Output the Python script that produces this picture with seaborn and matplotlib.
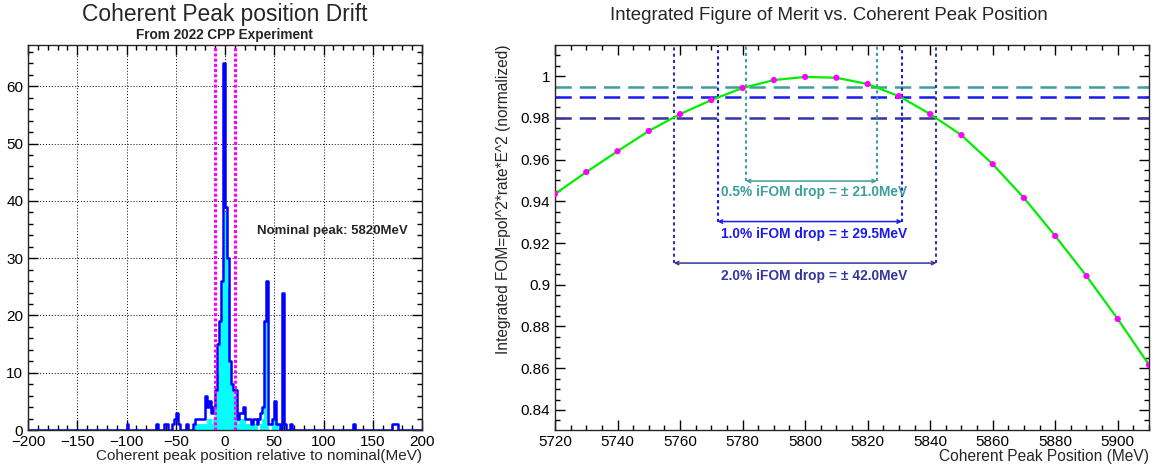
import matplotlib
matplotlib.use("Agg")
import matplotlib.pyplot as plt
from matplotlib.ticker import MultipleLocator, FuncFormatter
import numpy as np
import pandas as pd
import seaborn as sns

# -----------------------------
# Data: coherent peak drift histogram (2 MeV bins, left edges)
# -----------------------------
all_bin_left = [-100, -70, -62, -60, -54, -52, -50, -48, -40,
                -32, -30, -28, -26, -24, -22, -20, -18, -16, -14, -12,
                -10, -8, -6, -4, -2, 0, 2, 4, 6, 8, 10, 12, 14, 16, 18,
                20, 22, 24, 26, 28, 30, 32, 34, 36, 38, 40, 42, 44, 46,
                48, 50, 52, 54, 58, 60, 66, 130, 170, 172, 174]
all_counts = [1, 1, 1, 1, 1, 2, 3, 1, 1,
              1, 2, 2, 2, 2, 2, 6, 4, 5, 3, 4,
              7, 15, 19, 26, 64, 39, 30, 12, 8, 7, 7, 2, 3, 3, 4,
              2, 2, 2, 1, 2, 2, 1, 2, 3, 4, 19, 26, 1, 1,
              2, 5, 1, 1, 24, 1, 1, 1, 1, 1, 1]

sel_bin_left = [-30, -28, -26, -24, -22, -20, -18, -16, -14, -12,
                -10, -8, -6, -4, -2, 0, 2, 4, 6, 8, 10, 12, 14, 16, 18,
                20, 22, 24, 26, 28, 30, 36, 38, 40, 42, 48, 50, 52]
sel_counts = [1, 1, 1, 1, 1, 1, 2, 2, 1, 2,
              5, 10, 15, 20, 30, 38, 25, 11, 8, 6, 7, 1, 2, 2, 2,
              1, 1, 1, 1, 1, 1, 1, 2, 19, 1, 2, 3, 1]

nominal_window = [-10, 10]

# -----------------------------
# Data: integrated FOM scan
# -----------------------------
peak_pos = [5720, 5730, 5740, 5750, 5760, 5770, 5780, 5790, 5800, 5810,
            5820, 5830, 5840, 5850, 5860, 5870, 5880, 5890, 5900, 5910]
ifom = [0.9435, 0.9540, 0.9640, 0.9737, 0.9818, 0.9885, 0.9943, 0.9981,
        0.9996, 0.9992, 0.9962, 0.9904, 0.9818, 0.9717, 0.9578, 0.9416,
        0.9234, 0.9042, 0.8836, 0.8616]

drop_pct = [0.5, 1.0, 2.0]
drop_halfwidth = [21.0, 29.5, 42.0]
drop_center = [5802.0, 5801.5, 5800.0]
drop_colors = ["#3f9e9e", "#1a1aee", "#3535a0"]

# annotation layout (y of bracket arrow / label)
arrow_y = [0.9497, 0.9303, 0.9104]
label_y = [0.9444, 0.9243, 0.9042]

# -----------------------------
# Style
# -----------------------------
sns.set_theme(style="ticks")
plt.rcParams["font.family"] = ["Liberation Sans", "DejaVu Sans"]
plt.rcParams["axes.linewidth"] = 1.0

W, H = 1156, 468
fig = plt.figure(figsize=(W / 100, H / 100), dpi=100)


def _box(x0, y0, x1, y1):
    return [x0 / W, 1 - y1 / H, (x1 - x0) / W, (y1 - y0) / H]


def _root_ticks(ax):
    ax.tick_params(which="both", direction="in", top=True, right=True,
                   colors="black", labelsize=11)
    ax.tick_params(which="major", length=7, width=1)
    ax.tick_params(which="minor", length=3.5, width=1)


# -----------------------------
# 1) Peak drift histogram
# -----------------------------
ax1 = fig.add_axes(_box(28, 45, 422, 430))
df_all = pd.DataFrame({"pos": np.array(all_bin_left, dtype=float) + 1,
                       "n": np.array(all_counts, dtype=float)})
df_sel = pd.DataFrame({"pos": np.array(sel_bin_left, dtype=float) + 1,
                       "n": np.array(sel_counts, dtype=float)})

sns.histplot(data=df_sel, x="pos", weights="n", binwidth=2,
             binrange=(-200, 200), element="step",
             fill=True, color="#00ffff", alpha=1, linewidth=0.6, ax=ax1)
sns.histplot(data=df_all, x="pos", weights="n", binwidth=2,
             binrange=(-200, 200), element="step",
             fill=False, color="#0000ff", linewidth=1.8, ax=ax1)

for xv in nominal_window:
    ax1.axvline(xv, color="#ff00ff", lw=2.2, linestyle=(0, (1, 0.7)), zorder=4)

ax1.set_xlim(-200, 200)
ax1.set_ylim(0, 67.2)
ax1.xaxis.set_major_locator(MultipleLocator(50))
ax1.xaxis.set_minor_locator(MultipleLocator(10))
ax1.yaxis.set_major_locator(MultipleLocator(10))
ax1.yaxis.set_minor_locator(MultipleLocator(2))
ax1.grid(True, which="major", color="black", lw=0.7, linestyle=(0, (1, 2)))
ax1.set_axisbelow(True)
_root_ticks(ax1)
ax1.set_ylabel("")
ax1.set_xlabel("Coherent peak position relative to nominal(MeV)",
               fontsize=11, loc="right", labelpad=0)
ax1.text(32.5, 34.7, "Nominal peak: 5820MeV", fontsize=9.5,
         fontweight="bold", va="center", ha="left")

fig.text(224.7 / W, 1 - 15 / H, "Coherent Peak position Drift",
         fontsize=16.4, ha="center", va="center")
fig.text(224.7 / W, 1 - 35 / H, "From 2022 CPP Experiment",
         fontsize=9.8, fontweight="bold", ha="center", va="center")

# -----------------------------
# 2) Integrated FOM vs peak position
# -----------------------------
ax2 = fig.add_axes(_box(555, 45, 1149, 430))
ax2.set_xlim(5720, 5910)
ax2.set_ylim(0.8304, 1.0149)
top = 1.0149

for lvl, c in zip([1 - d / 100 for d in drop_pct], drop_colors):
    ax2.axhline(lvl, color=c, lw=1.8, dashes=(6.5, 3.2), zorder=2)

sns.lineplot(x=peak_pos, y=ifom, color="#00ee00", lw=1.6, ax=ax2, zorder=3)
sns.scatterplot(x=peak_pos, y=ifom, color="#ff00ff", s=20,
                edgecolor="none", ax=ax2, zorder=4)

for d, hw, cx, c, ay, ty in zip(drop_pct, drop_halfwidth, drop_center,
                                drop_colors, arrow_y, label_y):
    xl, xr = cx - hw, cx + hw
    ax2.vlines([xl, xr], ay, top, colors=c, lw=1.5,
               linestyles=[(0, (1.5, 1.5))], zorder=2)
    ax2.annotate("", xy=(xr, ay), xytext=(xl, ay),
                 arrowprops=dict(arrowstyle="<->", color=c, lw=1.1,
                                 mutation_scale=6, shrinkA=0, shrinkB=0))
    ax2.text(5803, ty, f"{d:.1f}% iFOM drop = \u00b1 {hw:.1f}MeV",
             color=c, fontsize=9.9, fontweight="bold",
             ha="center", va="center")

ax2.xaxis.set_major_locator(MultipleLocator(20))
ax2.xaxis.set_minor_locator(MultipleLocator(5))
ax2.yaxis.set_major_locator(MultipleLocator(0.02))
ax2.yaxis.set_minor_locator(MultipleLocator(0.005))
ax2.yaxis.set_major_formatter(FuncFormatter(lambda v, p: f"{v:g}"))
_root_ticks(ax2)
ax2.set_xlabel("Coherent Peak Position (MeV)", fontsize=11.2,
               loc="right", labelpad=0)
ax2.set_ylabel("Integrated FOM=pol^2*rate*E^2 (normalized)",
               fontsize=11.2, loc="top", labelpad=7)

fig.text(829 / W, 1 - 15 / H,
         "Integrated Figure of Merit vs. Coherent Peak Position",
         fontsize=13.4, ha="center", va="center")

fig.savefig("out.png", dpi=100)
